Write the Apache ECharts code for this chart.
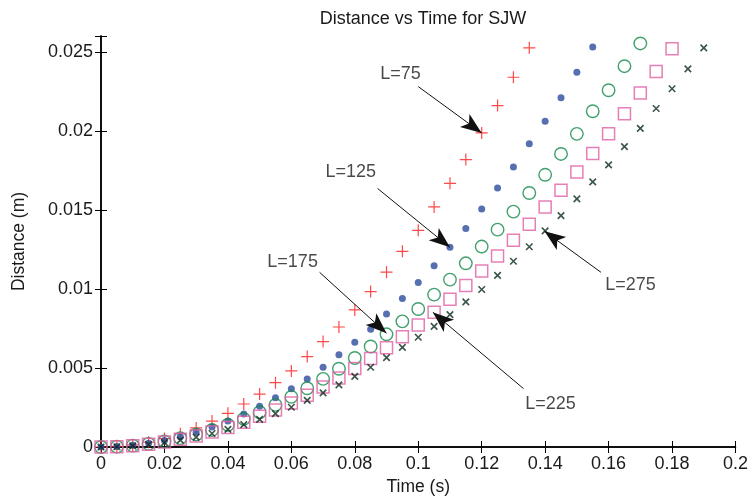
<!DOCTYPE html>
<html>
<head>
<meta charset="utf-8">
<script src="https://cdn.jsdelivr.net/npm/echarts@6/dist/echarts.min.js"></script>
<style>
html,body{margin:0;padding:0;background:#fff;}
#chart{width:751px;height:501px;}
</style>
</head>
<body>
<div id="chart"></div>
<script>
// Time samples (s)
const times = [0,0.005,0.01,0.015,0.02,0.025,0.03,0.035,0.04,0.045,0.05,0.055,0.06,0.065,0.07,0.075,0.08,0.085,0.09,0.095,0.1,0.105,0.11,0.115,0.12,0.125,0.13,0.135,0.14,0.145,0.15,0.155,0.16,0.165,0.17,0.175,0.18,0.185,0.19];

// Distance (m) for each series, paired with times by index
const distL75 = [0,0.0000335,0.000134,0.0003015,0.000536,0.000838,0.001206,0.001642,0.00213,0.00272,0.00335,0.00407,0.00481,0.00572,0.00667,0.00759,0.00867,0.00983,0.01106,0.01238,0.01371,0.01519,0.01668,0.01818,0.01987,0.0216,0.02339,0.02525];
const distL125 = [0,0.0000258,0.000103,0.000232,0.000412,0.000644,0.000927,0.001262,0.001648,0.002086,0.002575,0.003116,0.00369,0.0043,0.00504,0.00584,0.00663,0.00745,0.00842,0.00939,0.0104,0.01147,0.01263,0.01382,0.01506,0.01639,0.01772,0.01918,0.0206,0.0221,0.0237,0.0253];
const distL175 = [0,0.000022,0.000088,0.000198,0.000352,0.00055,0.000792,0.001078,0.001408,0.001782,0.0022,0.002662,0.003168,0.003718,0.004312,0.00495,0.005632,0.006358,0.007128,0.00795,0.00873,0.00964,0.01059,0.01162,0.01268,0.01375,0.01489,0.01607,0.01722,0.01854,0.01981,0.02124,0.02257,0.02409,0.02553];
const distL225 = [0,0.0000194,0.0000775,0.000174,0.00031,0.000484,0.000698,0.000949,0.00124,0.001569,0.001938,0.002344,0.00279,0.003274,0.003798,0.004359,0.00496,0.0056,0.00628,0.00698,0.00772,0.00852,0.00934,0.01022,0.01113,0.01208,0.01308,0.01409,0.01519,0.01624,0.0174,0.01856,0.01981,0.02108,0.0224,0.02375,0.02519];
const distL275 = [0,0.0000175,0.0000698,0.000157,0.000279,0.000436,0.000628,0.000855,0.001117,0.001413,0.001745,0.002111,0.002513,0.002949,0.00342,0.003926,0.004467,0.005043,0.005654,0.0063,0.00694,0.00763,0.00837,0.00918,0.00996,0.01086,0.01175,0.01267,0.01367,0.01464,0.0157,0.01677,0.01785,0.019,0.02016,0.02141,0.02266,0.02392,0.02525];

// Axis ticks
const xTicks = [0,0.02,0.04,0.06,0.08,0.1,0.12,0.14,0.16,0.18,0.2];
const yTicks = [0,0.005,0.01,0.015,0.02,0.025];

// Annotations (data coordinates)
const annoLabels = ['L=75','L=125','L=175','L=225','L=275'];
const annoTextPos = [[0.0944,0.02357],[0.0787,0.01742],[0.0604,0.01173],[0.1417,0.00274],[0.1669,0.01027]];
const annoFrom = [[0.1,0.0228],[0.0872,0.01635],[0.0689,0.01105],[0.1332,0.00369],[0.1576,0.01105]];
const annoTo = [[0.12,0.01987],[0.11,0.01263],[0.09,0.0072],[0.1046,0.00852],[0.1398,0.01365]];

const pair = arr => arr.map((v, i) => [times[i], v]);
const FONT = 'Liberation Sans, Arial, Helvetica, sans-serif';
const ink = '#1a1a1a';

const chart = echarts.init(document.getElementById('chart'), null, {renderer: 'canvas'});

const axisCommon = {
  axisLine: {show: true, lineStyle: {color: '#000', width: 1.5}},
  axisTick: {show: true, inside: true, length: 6, lineStyle: {color: '#000', width: 1}},
  splitLine: {show: false}
};

const yFmt = v => yTicks.some(t => Math.abs(t - v) < 1e-9) ? String(+v.toFixed(3)) : '';
const xFmt = v => xTicks.some(t => Math.abs(t - v) < 1e-9) ? String(+v.toFixed(2)) : '';

function markerSeries(name, data, symbol, size, style) {
  return {
    name, type: 'scatter', data: pair(data), symbol, symbolSize: size,
    itemStyle: style, silent: true, emphasis: {disabled: true}, z: 3
  };
}

const option = {
  animation: false,
  title: {
    text: 'Distance vs Time for SJW', left: 418, top: 5, textAlign: 'center',
    textStyle: {fontFamily: FONT, fontSize: 18, fontWeight: 'normal', color: ink}
  },
  grid: {left: 101, right: 15, top: 36, bottom: 54, containLabel: false},
  xAxis: [
    Object.assign({}, axisCommon, {
      type: 'value', min: 0, max: 0.2, interval: 0.02, position: 'bottom',
      name: 'Time (s)', nameLocation: 'middle', nameGap: 30,
      nameTextStyle: {fontFamily: FONT, fontSize: 17.5, color: ink},
      axisLabel: {margin: 8, fontFamily: FONT, fontSize: 18, color: ink, formatter: xFmt}
    }),
    Object.assign({}, axisCommon, {
      type: 'value', min: 0, max: 0.2, interval: 0.02, position: 'top',
      axisLabel: {show: false}
    })
  ],
  yAxis: [
    Object.assign({}, axisCommon, {
      type: 'value', min: 0, max: 0.026, interval: 0.005, position: 'left',
      name: 'Distance (m)', nameLocation: 'middle', nameGap: 73,
      nameTextStyle: {fontFamily: FONT, fontSize: 17.5, color: ink},
      axisLabel: {margin: 8, fontFamily: FONT, fontSize: 18, color: ink, formatter: yFmt}
    }),
    Object.assign({}, axisCommon, {
      type: 'value', min: 0, max: 0.026, interval: 0.005, position: 'right',
      axisLabel: {show: false}
    })
  ],
  series: [
    markerSeries('L=75', distL75, 'path://M5,0L5,10M0,5L10,5', 12,
      {color: 'rgba(0,0,0,0)', borderColor: '#ff1a1a', borderWidth: 1.2}),
    markerSeries('L=125', distL125, 'circle', 7,
      {color: '#2c4b9e'}),
    markerSeries('L=175', distL175, 'circle', 12.5,
      {color: 'rgba(0,0,0,0)', borderColor: '#10884a', borderWidth: 1.4}),
    markerSeries('L=225', distL225, 'rect', 12,
      {color: 'rgba(0,0,0,0)', borderColor: '#e05fa3', borderWidth: 1.5}),
    markerSeries('L=275', distL275, 'path://M0,0L10,10M10,0L0,10', 6.5,
      {color: 'rgba(0,0,0,0)', borderColor: '#0b2a1b', borderWidth: 1.6}),
    {
      name: 'annotations', type: 'scatter', silent: true, z: 5,
      data: annoLabels.map((t, i) => ({name: t, value: annoTextPos[i]})),
      symbol: 'circle', symbolSize: 1,
      itemStyle: {color: 'rgba(0,0,0,0)'},
      label: {show: true, position: 'inside', formatter: '{b}',
        fontFamily: FONT, fontSize: 18, color: ink},
      markLine: {
        silent: true, animation: false,
        symbol: ['none', 'arrow'], symbolSize: [12, 21],
        lineStyle: {color: '#111', width: 1, type: 'solid'},
        label: {show: false},
        emphasis: {disabled: true},
        data: annoFrom.map((f, i) => [{coord: f}, {coord: annoTo[i]}])
      }
    }
  ]
};
chart.setOption(option);
</script>
</body>
</html>
